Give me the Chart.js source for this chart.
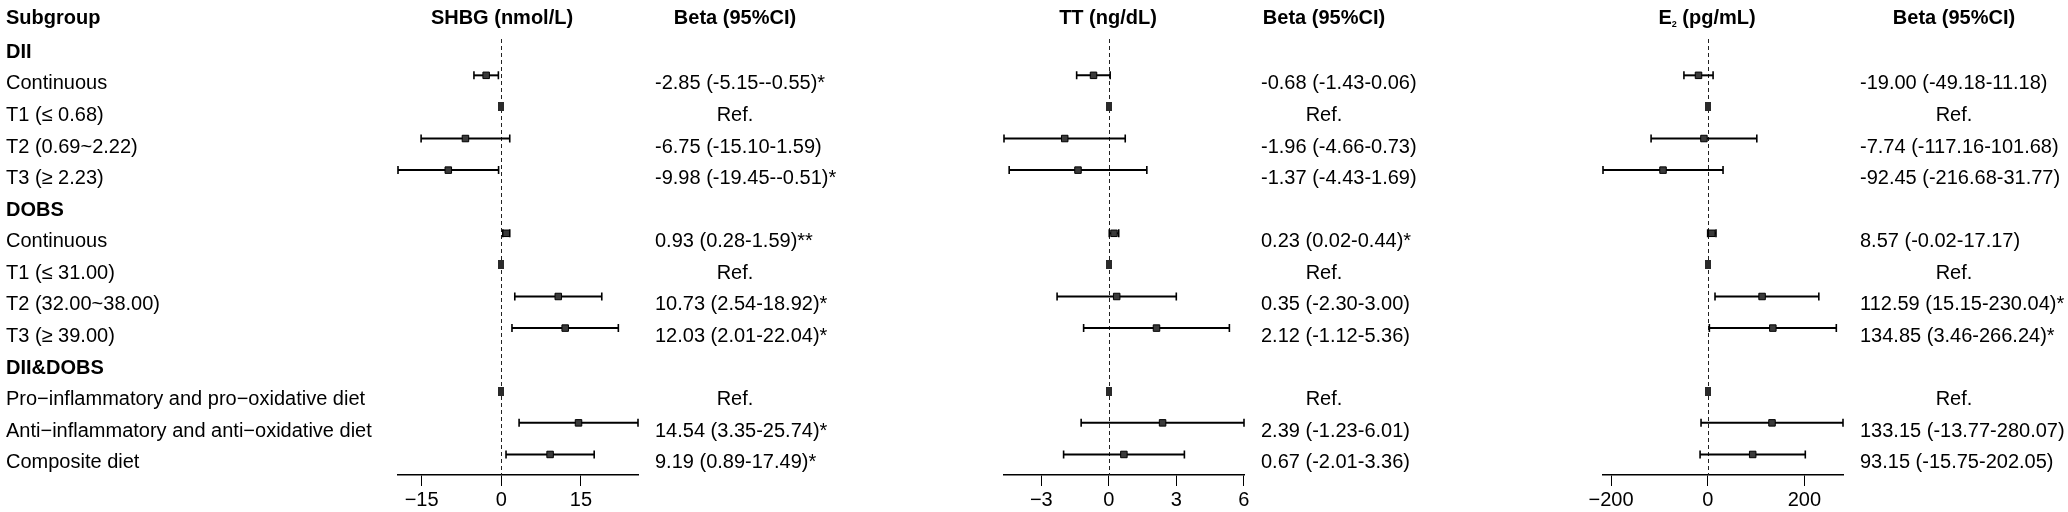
<!DOCTYPE html>
<html><head><meta charset="utf-8">
<script src="https://cdn.jsdelivr.net/npm/chart.js@4.4.1/dist/chart.umd.min.js"></script>
<style>
html,body{margin:0;padding:0;background:#fff;width:2068px;height:512px;overflow:hidden;}
canvas{position:absolute;top:0;}
</style></head><body>
<canvas id="c1" width="1000" height="512" style="left:0px;width:1000px;height:512px"></canvas>
<canvas id="c2" width="640" height="512" style="left:960px;width:640px;height:512px"></canvas>
<canvas id="c3" width="528" height="512" style="left:1540px;width:528px;height:512px"></canvas>
<script>
// ---------- data ----------
const subgroups = ["DII","Continuous","T1 (\u2264 0.68)","T2 (0.69~2.22)","T3 (\u2265 2.23)",
  "DOBS","Continuous","T1 (\u2264 31.00)","T2 (32.00~38.00)","T3 (\u2265 39.00)",
  "DII&DOBS","Pro\u2212inflammatory and pro\u2212oxidative diet","Anti\u2212inflammatory and anti\u2212oxidative diet","Composite diet"];
const groupRows = [true,false,false,false,false,true,false,false,false,false,true,false,false,false];

const shbgBeta = [null,-2.85,0,-6.75,-9.98,null,0.93,0,10.73,12.03,null,0,14.54,9.19];
const shbgLow  = [null,-5.15,0,-15.10,-19.45,null,0.28,0,2.54,2.01,null,0,3.35,0.89];
const shbgHigh = [null,-0.55,0,1.59,-0.51,null,1.59,0,18.92,22.04,null,0,25.74,17.49];
const shbgText = ["","-2.85 (-5.15--0.55)*","Ref.","-6.75 (-15.10-1.59)","-9.98 (-19.45--0.51)*","",
  "0.93 (0.28-1.59)**","Ref.","10.73 (2.54-18.92)*","12.03 (2.01-22.04)*","","Ref.","14.54 (3.35-25.74)*","9.19 (0.89-17.49)*"];

const ttBeta = [null,-0.68,0,-1.96,-1.37,null,0.23,0,0.35,2.12,null,0,2.39,0.67];
const ttLow  = [null,-1.43,0,-4.66,-4.43,null,0.02,0,-2.30,-1.12,null,0,-1.23,-2.01];
const ttHigh = [null,0.06,0,0.73,1.69,null,0.44,0,3.00,5.36,null,0,6.01,3.36];
const ttText = ["","-0.68 (-1.43-0.06)","Ref.","-1.96 (-4.66-0.73)","-1.37 (-4.43-1.69)","",
  "0.23 (0.02-0.44)*","Ref.","0.35 (-2.30-3.00)","2.12 (-1.12-5.36)","","Ref.","2.39 (-1.23-6.01)","0.67 (-2.01-3.36)"];

const e2Beta = [null,-19.00,0,-7.74,-92.45,null,8.57,0,112.59,134.85,null,0,133.15,93.15];
const e2Low  = [null,-49.18,0,-117.16,-216.68,null,-0.02,0,15.15,3.46,null,0,-13.77,-15.75];
const e2High = [null,11.18,0,101.68,31.77,null,17.17,0,230.04,266.24,null,0,280.07,202.05];
const e2Text = ["","-19.00 (-49.18-11.18)","Ref.","-7.74 (-117.16-101.68)","-92.45 (-216.68-31.77)","",
  "8.57 (-0.02-17.17)","Ref.","112.59 (15.15-230.04)*","134.85 (3.46-266.24)*","","Ref.","133.15 (-13.77-280.07)","93.15 (-15.75-202.05)"];

const shbgTicks = [-15,0,15];
const ttTicks = [-3,0,3,6];
const e2Ticks = [-200,0,200];

// ---------- rendering ----------
const FONT = '"Liberation Sans", Arial, Helvetica, sans-serif';
const refImg = document.createElement('canvas');
refImg.width = 6; refImg.height = 9;
{ const c = refImg.getContext('2d'); c.fillStyle = '#2a2a2a'; c.fillRect(0,0,6,9); }

function fmt(v){ return v < 0 ? '\u2212' + Math.abs(v) : String(v); }

function makePlugin(cfg){
  return {
    id: 'forest_' + cfg.key,
    beforeDatasetsDraw(chart){
      const {ctx, chartArea:a, scales:{x, y}} = chart;
      ctx.save();
      const x0 = Math.round(x.getPixelForValue(0)) + 0.5;
      ctx.strokeStyle = '#222'; ctx.lineWidth = 1; ctx.setLineDash([4,3]);
      ctx.beginPath(); ctx.moveTo(x0, a.top); ctx.lineTo(x0, a.bottom); ctx.stroke();
      ctx.setLineDash([]);
      ctx.strokeStyle = '#000';
      cfg.low.forEach((lo, i) => {
        const hi = cfg.high[i];
        if (lo == null || lo === hi) return;
        const py = y.getPixelForValue(i), xl = x.getPixelForValue(lo), xh = x.getPixelForValue(hi);
        ctx.lineWidth = 2;
        ctx.beginPath(); ctx.moveTo(xl, py); ctx.lineTo(xh, py); ctx.stroke();
        ctx.lineWidth = 1.6;
        ctx.beginPath();
        ctx.moveTo(xl, py - 4); ctx.lineTo(xl, py + 4);
        ctx.moveTo(xh, py - 4); ctx.lineTo(xh, py + 4);
        ctx.stroke();
      });
      ctx.restore();
    },
    afterDraw(chart){
      const {ctx, chartArea:a, scales:{y}} = chart;
      ctx.save();
      ctx.fillStyle = '#000';
      ctx.textBaseline = 'alphabetic';
      const headY = y.getPixelForValue(-1) + 12;
      const bold = 'bold 20px ' + FONT, norm = '20px ' + FONT;
      if (cfg.subgroups){
        ctx.textAlign = 'left';
        ctx.font = bold; ctx.fillText('Subgroup', 6, headY);
        subgroups.forEach((s, i) => {
          ctx.font = groupRows[i] ? bold : norm;
          ctx.fillText(s, 6, y.getPixelForValue(i) + 14);
        });
      }
      // panel title
      const cx = (a.left + a.right) / 2 - 16;
      ctx.font = bold;
      if (cfg.sub){
        const p1 = cfg.title[0], p2 = cfg.title[1], p3 = cfg.title[2];
        ctx.font = bold; const w1 = ctx.measureText(p1).width, w3 = ctx.measureText(p3).width;
        ctx.font = 'bold 9px ' + FONT; const w2 = ctx.measureText(p2).width;
        let sx = cx - (w1 + w2 + w3) / 2;
        ctx.textAlign = 'left';
        ctx.font = bold; ctx.fillText(p1, sx, headY); sx += w1;
        ctx.font = 'bold 9px ' + FONT; ctx.fillText(p2, sx, headY + 3); sx += w2;
        ctx.font = bold; ctx.fillText(p3, sx, headY);
      } else {
        ctx.textAlign = 'center';
        ctx.fillText(cfg.title, cx, headY);
      }
      // beta column
      ctx.font = bold; ctx.textAlign = 'center';
      ctx.fillText('Beta (95%CI)', a.right + cfg.refOff, headY);
      ctx.font = norm;
      cfg.text.forEach((t, i) => {
        if (!t) return;
        const py = y.getPixelForValue(i) + 14;
        if (t === 'Ref.'){ ctx.textAlign = 'center'; ctx.fillText(t, a.right + cfg.refOff, py); }
        else { ctx.textAlign = 'left'; ctx.fillText(t, a.right + 17, py); }
      });
      ctx.restore();
    }
  };
}

function buildChart(id, cfg){
  const mainPts = [], refPts = [];
  cfg.beta.forEach((b, i) => {
    if (b == null) return;
    (cfg.text[i] === 'Ref.' ? refPts : mainPts).push({x: b, y: i});
  });
  const lo = Math.min(...cfg.low.filter(v => v != null));
  const hi = Math.max(...cfg.high.filter(v => v != null));
  return new Chart(document.getElementById(id), {
    type: 'scatter',
    data: { datasets: [
      { data: mainPts, pointStyle: 'rect', pointRadius: 4.6, backgroundColor: '#3a3a3a', borderColor: '#000', borderWidth: 1 },
      { data: refPts, pointStyle: refImg, pointRadius: 4 }
    ]},
    options: {
      responsive: false, animation: false, devicePixelRatio: 1,
      layout: { padding: { left: cfg.padL, right: cfg.padR, top: 39, bottom: 0 } },
      plugins: { legend: { display: false }, tooltip: { enabled: false } },
      events: [],
      scales: {
        x: {
          type: 'linear', min: lo, max: hi,
          afterBuildTicks: s => { s.ticks = cfg.ticks.map(v => ({ value: v })); },
          afterFit: s => { s.height = 37; },
          ticks: { autoSkip: false, maxRotation: 0, minRotation: 0, padding: 2, color: '#000',
                   font: { family: FONT, size: 20 }, callback: v => fmt(v) },
          grid: { display: true, drawOnChartArea: false, drawTicks: true, tickLength: 11, color: '#000', lineWidth: 1 },
          border: { display: true, color: '#000', width: 1.5 }
        },
        y: { type: 'linear', min: -0.15, max: 13.65, reverse: true, display: false }
      }
    },
    plugins: [makePlugin(cfg)]
  });
}

buildChart('c1', { key: 'shbg', beta: shbgBeta, low: shbgLow, high: shbgHigh, text: shbgText, ticks: shbgTicks,
  title: 'SHBG (nmol/L)', subgroups: true, padL: 398, padR: 362, refOff: 97 });
buildChart('c2', { key: 'tt', beta: ttBeta, low: ttLow, high: ttHigh, text: ttText, ticks: ttTicks,
  title: 'TT (ng/dL)', padL: 44, padR: 356, refOff: 80 });
buildChart('c3', { key: 'e2', beta: e2Beta, low: e2Low, high: e2High, text: e2Text, ticks: e2Ticks,
  title: ['E', '2', ' (pg/mL)'], sub: true, padL: 63, padR: 225, refOff: 111 });
</script>
</body></html>
